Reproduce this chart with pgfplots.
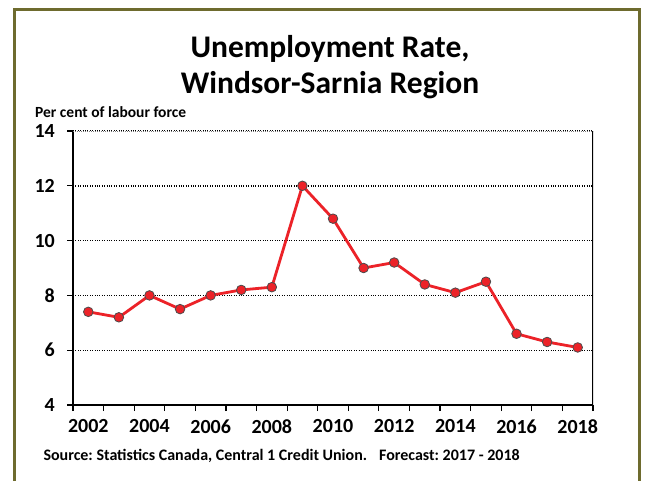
\documentclass[border=0pt]{standalone}
\usepackage{fontspec}
\setmainfont{Carlito}
\usepackage{pgfplots}
\pgfplotsset{compat=1.18}
\definecolor{frameOl}{HTML}{6E6B2E}
\definecolor{lineRed}{HTML}{EC2228}
\begin{document}
\frenchspacing
\begin{tikzpicture}
\path[fill=white] (0pt,0pt) rectangle (652pt,481pt);
\draw[frameOl, line width=3pt] (14pt,0pt) -- (14pt,471pt) -- (639pt,471pt) -- (639pt,0pt);
\node[anchor=base, font=\fontsize{31.5}{36}\selectfont\bfseries] at (330pt,423pt) {Unemployment Rate,};
\node[anchor=base, font=\fontsize{31.5}{36}\selectfont\bfseries] at (330pt,387pt) {Windsor-Sarnia Region};
\node[anchor=base west, inner sep=0pt, font=\fontsize{15.5}{18}\selectfont\bfseries] at (35pt,363pt) {Per cent of labour force};
\node[anchor=base west, font=\fontsize{16}{18}\selectfont\bfseries] at (40pt,21pt)
  {Source: Statistics Canada, Central 1 Credit Union.\hspace{12pt}Forecast: 2017 - 2018};
\begin{axis}[
  at={(73pt,76pt)}, anchor=south west,
  scale only axis, width=520pt, height=274pt,
  xmin=2001.5, xmax=2018.5, ymin=4, ymax=14,
  axis x line*=bottom, axis y line*=left,
  axis line style={-, line width=1.4pt, black},
  xtick={2001.5,2002.5,...,2018.5}, xticklabels={},
  extra x ticks={2002,2004,...,2018},
  extra x tick style={major tick length=0pt, grid=none},
  ytick={4,6,...,14},
  tick align=outside, major tick length=6pt,
  tick style={black, line width=1.2pt},
  ymajorgrids, grid style={black, dotted, line width=1.4pt},
  /pgf/number format/1000 sep={},
  /pgf/number format/assume math mode=true,
  ticklabel style={font=\fontsize{20}{24}\selectfont\bfseries},
  xticklabel style={yshift=-11pt},
  yticklabel style={xshift=-11pt, inner sep=1pt},
]
\addplot[lineRed, line width=2.8pt, line join=round, mark=*, mark size=4.8pt,
  mark options={fill=lineRed, draw=black!70, line width=0.8pt}]
  coordinates {(2002,7.4) (2003,7.2) (2004,8.0) (2005,7.5) (2006,8.0) (2007,8.2)
               (2008,8.3) (2009,12.0) (2010,10.8) (2011,9.0) (2012,9.2) (2013,8.4)
               (2014,8.1) (2015,8.5) (2016,6.6) (2017,6.3) (2018,6.1)};
\draw[white, line width=2pt] (rel axis cs:0,1) -- (rel axis cs:1,1);
\draw[gray, line width=1pt, dash pattern=on 1.2pt off 0.8pt] (rel axis cs:0,1) -- (rel axis cs:1,1);
\draw[black, line width=1.4pt] (rel axis cs:1,0) -- (rel axis cs:1,1.0);
\end{axis}
\end{tikzpicture}
\end{document}
